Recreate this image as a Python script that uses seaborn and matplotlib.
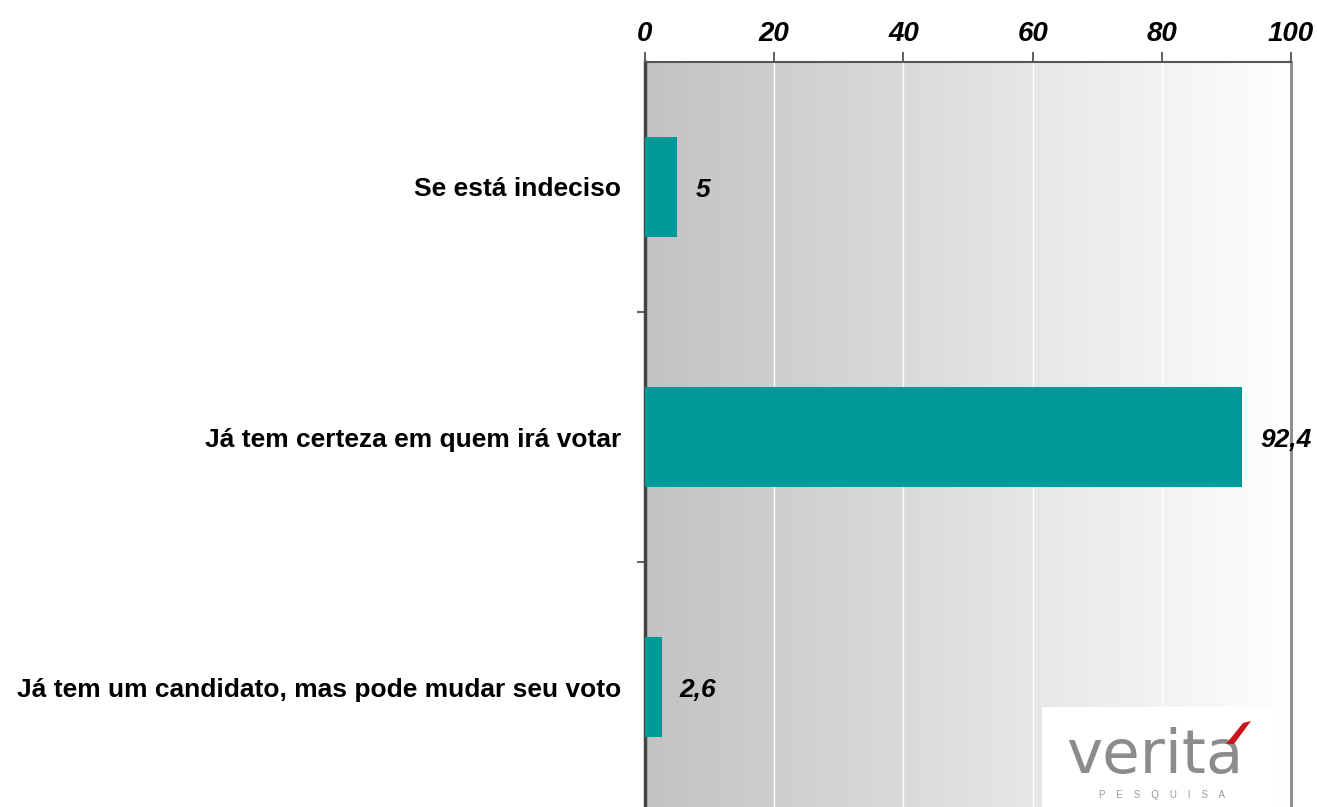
import numpy as np
import pandas as pd
import matplotlib
matplotlib.use("Agg")
import matplotlib.pyplot as plt
import seaborn as sns
from matplotlib.patches import Rectangle, Polygon

categories = [
    "Se está indeciso",
    "Já tem certeza em quem irá votar",
    "Já tem um candidato, mas pode mudar seu voto",
]
values = [5, 92.4, 2.6]
value_labels = ["5", "92,4", "2,6"]
x_ticks = [0, 20, 40, 60, 80, 100]

sns.set_style("white")
plt.rcParams["font.family"] = ["Liberation Sans", "DejaVu Sans"]
plt.rcParams["text.color"] = "black"
plt.rcParams["xtick.color"] = "black"
plt.rcParams["ytick.color"] = "black"

df = pd.DataFrame({"categoria": categories, "valor": values})

W, H = 1317, 807
fig = plt.figure(figsize=(W / 100, H / 100), dpi=100)
ax = fig.add_axes([645 / W, -5 / H, 646 / W, 750 / H])

# gray-to-white background gradient
grad = np.linspace(0, 1, 256).reshape(1, -1)
cmap = matplotlib.colors.LinearSegmentedColormap.from_list("bg", ["#c2c2c2", "#ffffff"])
ax.imshow(grad, extent=[0, 100, 2.5, -0.5], aspect="auto", cmap=cmap, zorder=0)

sns.barplot(data=df, x="valor", y="categoria", color="#009999", saturation=1,
            width=0.4, orient="h", ax=ax, zorder=3, edgecolor="none", linewidth=0)

ax.set_xlim(0, 100)
ax.set_ylim(2.5, -0.5)
ax.set_xlabel("")
ax.set_ylabel("")

# white vertical grid lines
for xv in x_ticks[1:-1]:
    ax.axvline(xv, color="white", lw=1.0, zorder=1)

# x axis on top
ax.xaxis.tick_top()
ax.set_xticks(x_ticks)
ax.set_xticklabels([str(t) for t in x_ticks], fontsize=20, fontweight="bold",
                   fontstyle="italic")
ax.tick_params(axis="x", direction="out", length=7, width=1.2, color="#444444",
               pad=4, labelcolor="black")

# category labels and boundary ticks
ax.set_yticks(range(len(categories)))
ax.set_yticklabels(categories, fontsize=19, fontweight="bold")
ax.tick_params(axis="y", which="major", length=0, pad=17, labelcolor="black")
ax.set_yticks([0.5, 1.5], minor=True)
ax.tick_params(axis="y", which="minor", direction="out", length=6, width=1.5,
               color="#666666", left=True)

for side in ["top", "left", "right"]:
    ax.spines[side].set_visible(True)
ax.spines["top"].set_color("#555555")
ax.spines["top"].set_linewidth(1.5)
ax.spines["left"].set_color("#444444")
ax.spines["left"].set_linewidth(2.5)
ax.spines["right"].set_color("#888888")
ax.spines["right"].set_linewidth(2)
ax.spines["bottom"].set_visible(False)

# value labels
for i, (v, lab) in enumerate(zip(values, value_labels)):
    ax.annotate(lab, (v, i), xytext=(13, -2), textcoords="offset points",
                ha="left", va="center", fontsize=19, fontweight="bold",
                fontstyle="italic", color="black", zorder=5)

# logo
fig.patches.append(Rectangle((1042 / W, 0), 233 / W, 100 / H,
                             transform=fig.transFigure, facecolor="white",
                             edgecolor="none", zorder=4))
fig.text(1155 / W, 1 - 757 / H, "verita", ha="center",
         va="center", fontsize=44, color="#8c8c8c", family="DejaVu Sans",
         zorder=5)
accent = [(1226, 744), (1234, 744), (1251, 721), (1243, 723)]
fig.patches.append(Polygon([(x / W, 1 - y / H) for x, y in accent],
                           closed=True, transform=fig.transFigure,
                           facecolor="#c8161d", edgecolor="none", zorder=6))
fig.text(1162 / W, 1 - 795 / H, "P    E    S    Q    U    I    S    A",
         ha="center", va="center", fontsize=7, color="#999999", zorder=5)

plt.savefig("out.png", dpi=100)
plt.close()
